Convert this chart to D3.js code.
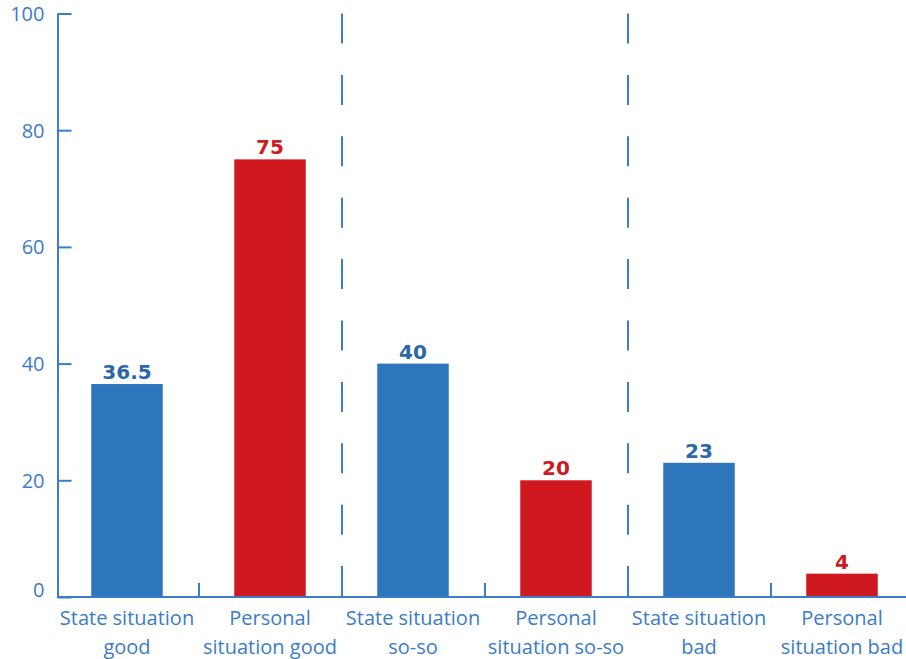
<!DOCTYPE html>
<html>
<head>
<meta charset="utf-8">
<script src="https://cdn.jsdelivr.net/npm/d3@7"></script>
<style>
  body { margin: 0; background: #fff; }
  svg { display: block; }
</style>
</head>
<body>
<div class="chart"></div>
<script>
// data
var categories = ["State situation good", "Personal situation good", "State situation so-so",
  "Personal situation so-so", "State situation bad", "Personal situation bad"];
var labelLines = [
  ["State situation", "good"],
  ["Personal", "situation good"],
  ["State situation", "so-so"],
  ["Personal", "situation so-so"],
  ["State situation", "bad"],
  ["Personal", "situation bad"]
];
var values = [36.5, 75, 40, 20, 23, 4];
var valueLabels = ["36.5", "75", "40", "20", "23", "4"];
var kinds = ["state", "personal", "state", "personal", "state", "personal"];
var yTicks = [0, 20, 40, 60, 80, 100];

var svgWidth = 906;
var svgHeight = 659;

var axisColor = "#3a7dc9";
var textColor = "#3c7cc4";
var barColors = { state: "#2e76bc", personal: "#cf1820" };
var labelColors = { state: "#2c67aa", personal: "#cc1b23" };

var svg = d3.select(".chart")
  .append("svg")
  .attr("width", svgWidth)
  .attr("height", svgHeight);

var x = d3.scaleBand()
  .domain(categories)
  .range([55.5, 913.5])
  .paddingInner(0.5)
  .paddingOuter(0.25);

var y = d3.scaleLinear()
  .domain([0, 100])
  .range([597, 13.5]);

var gap = x.step() - x.bandwidth();

// bars
svg.selectAll("rect.bar")
  .data(values)
  .enter()
  .append("rect")
  .attr("class", "bar")
  .attr("x", (d, i) => x(categories[i]))
  .attr("y", d => y(d))
  .attr("width", x.bandwidth())
  .attr("height", d => y(0) - y(d))
  .attr("fill", (d, i) => barColors[kinds[i]]);

// value labels
svg.selectAll("text.value")
  .data(values)
  .enter()
  .append("text")
  .attr("class", "value")
  .attr("x", (d, i) => x(categories[i]) + x.bandwidth() / 2)
  .attr("y", d => y(d) - 5)
  .attr("text-anchor", "middle")
  .attr("font-family", "DejaVu Sans")
  .attr("font-weight", "bold")
  .attr("font-size", 20)
  .attr("fill", (d, i) => labelColors[kinds[i]])
  .text((d, i) => valueLabels[i]);

// boundaries between categories: dashed between groups, short ticks inside a group
var boundaries = categories.slice(1).map((c, i) => ({ pos: x(c) - gap / 2, group: (i + 1) % 2 === 0 }));

svg.selectAll("line.sep")
  .data(boundaries.filter(b => b.group))
  .enter()
  .append("line")
  .attr("class", "sep")
  .attr("x1", d => Math.round(d.pos))
  .attr("x2", d => Math.round(d.pos))
  .attr("y1", y(100))
  .attr("y2", y(0))
  .attr("stroke", axisColor)
  .attr("stroke-width", 2)
  .attr("stroke-dasharray", "30,31.4");

svg.selectAll("line.tick-x")
  .data(boundaries.filter(b => !b.group))
  .enter()
  .append("line")
  .attr("class", "tick-x")
  .attr("x1", d => Math.round(d.pos))
  .attr("x2", d => Math.round(d.pos))
  .attr("y1", y(0))
  .attr("y2", y(0) - 14)
  .attr("stroke", axisColor)
  .attr("stroke-width", 2);

// x axis line
svg.append("line")
  .attr("x1", 57)
  .attr("x2", svgWidth)
  .attr("y1", y(0))
  .attr("y2", y(0))
  .attr("stroke", axisColor)
  .attr("stroke-width", 2);

// x labels
var xLabels = svg.selectAll("text.xlabel")
  .data(labelLines)
  .enter()
  .append("text")
  .attr("class", "xlabel")
  .attr("text-anchor", "middle")
  .attr("font-family", "Open Sans")
  .attr("font-size", 20)
  .attr("fill", textColor);

xLabels.selectAll("tspan")
  .data((d, i) => d.map(line => ({ line: line, cx: x(categories[i]) + x.bandwidth() / 2 })))
  .enter()
  .append("tspan")
  .attr("x", d => d.cx)
  .attr("y", (d, j) => 625 + j * 29)
  .text(d => d.line);

// y axis
var leftAxis = d3.axisLeft(y)
  .tickValues(yTicks)
  .tickSizeInner(-14)
  .tickSizeOuter(0)
  .tickPadding(13);

var yAxis = svg.append("g")
  .attr("transform", "translate(57.5, 0)")
  .call(leftAxis);

yAxis.select(".domain")
  .attr("stroke", axisColor)
  .attr("stroke-width", 2);

yAxis.selectAll(".tick line")
  .attr("stroke", axisColor)
  .attr("stroke-width", 2);

yAxis.selectAll(".tick text")
  .attr("font-family", "Open Sans")
  .attr("font-size", 20)
  .attr("fill", textColor)
  .attr("dy", d => d === 0 ? "-0.05em" : "0.35em");
</script>
</body>
</html>
